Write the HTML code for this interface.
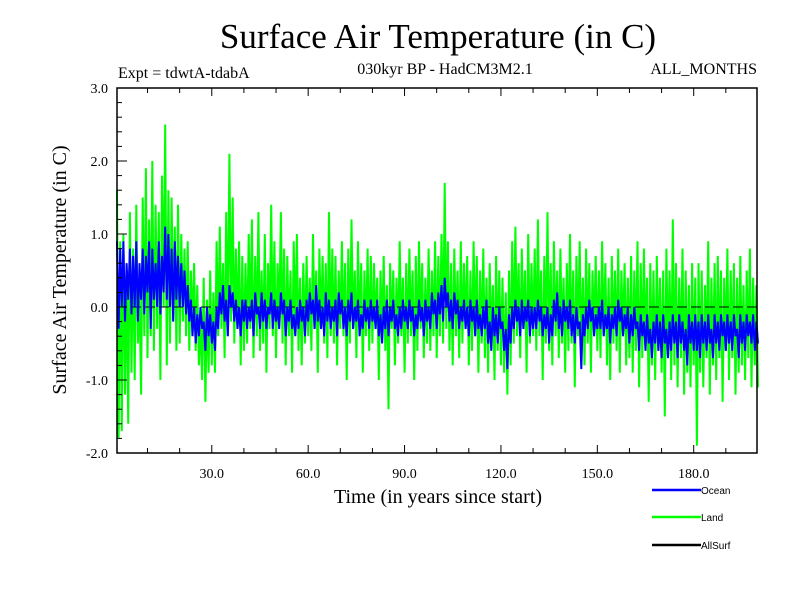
<!DOCTYPE html>
<html><head><meta charset="utf-8"><style>
body{margin:0;background:#fff}
svg text{font-family:"Liberation Serif",serif}
svg text.sans{font-family:"Liberation Sans",sans-serif}
</style></head><body>
<svg id="chart" width="800" height="600" xmlns="http://www.w3.org/2000/svg">
<rect width="800" height="600" fill="#fff"/>
<text x="438" y="48" font-size="35" text-anchor="middle">Surface Air Temperature (in C)</text>
<text x="118" y="78" font-size="16">Expt = tdwtA-tdabA</text>
<text x="445" y="74" font-size="16" text-anchor="middle">030kyr BP - HadCM3M2.1</text>
<text x="757" y="74" font-size="16" text-anchor="end">ALL_MONTHS</text>
<text transform="translate(66,270) rotate(-90)" font-size="20" text-anchor="middle">Surface Air Temperature (in C)</text>
<text x="438" y="503" font-size="20" text-anchor="middle">Time (in years since start)</text>
<g id="plot"></g>
<g id="axes"></g>
<g>
<g><line x1="652" y1="490" x2="701" y2="490" stroke="#0000ff" stroke-width="2.5"/><text class="sans" x="701" y="494" font-size="10" style="font-family:'Liberation Sans',sans-serif">Ocean</text></g>
<g><line x1="652" y1="517" x2="701" y2="517" stroke="#00ff00" stroke-width="2.5"/><text class="sans" x="701" y="521" font-size="10" style="font-family:'Liberation Sans',sans-serif">Land</text></g>
<g><line x1="652" y1="545" x2="701" y2="545" stroke="#000" stroke-width="2.5"/><text class="sans" x="701" y="549" font-size="10" style="font-family:'Liberation Sans',sans-serif">AllSurf</text></g>
</g>
</svg>
<script>
const land=[1.6,-1.8,0.9,-1.7,1.0,-1.2,0.5,-1.6,1.3,-0.9,0.8,-1.0,1.4,-0.5,0.2,-1.2,1.5,-0.4,1.9,-0.7,
1.2,-0.4,2.0,-0.6,1.4,-0.3,1.3,-1.0,1.8,0.0,2.5,-0.8,1.6,-0.5,1.5,-0.2,1.1,-0.6,1.4,-0.5,
1.0,-0.2,0.8,-0.4,0.9,-0.6,0.5,-0.3,0.6,-0.6,0.3,-0.8,-0.2,-1.0,0.4,-1.3,0.1,-0.9,0.5,-0.8,
0.2,-0.9,0.9,-0.4,1.1,-0.3,0.6,-0.7,1.3,-0.4,2.1,-0.2,1.5,-0.5,0.8,-0.3,0.9,-0.8,0.7,-0.6,
0.6,-0.5,1.0,-0.3,1.2,-0.7,0.7,-0.4,1.3,-0.6,0.5,-0.5,1.0,-0.9,0.6,-0.3,1.4,-0.4,0.9,-0.7,
0.6,-0.2,1.3,-0.5,0.8,-0.8,0.7,-0.4,0.5,-0.9,0.9,-0.3,1.0,-0.6,0.4,-0.8,0.6,-0.5,0.7,-0.4,
0.4,-0.6,1.0,-0.3,0.5,-0.9,0.8,-0.3,0.7,-0.5,0.6,-0.7,1.3,-0.4,0.8,-0.5,0.7,-0.8,0.5,-0.3,
0.9,-0.4,0.6,-1.0,0.8,-0.5,1.2,-0.3,0.5,-0.7,0.9,-0.4,0.6,-0.9,0.5,-0.4,0.8,-0.6,0.7,-0.5,
0.6,-0.3,0.4,-1.0,0.5,-0.4,0.7,-0.6,0.3,-1.4,0.6,-0.3,0.5,-0.8,0.4,-0.5,0.9,-0.4,0.4,-0.9,
0.6,-0.5,0.8,-0.4,0.5,-1.0,0.7,-0.6,0.9,-0.3,0.6,-0.7,0.4,-0.5,0.8,-0.6,0.5,-0.4,0.9,-0.7,
0.7,-0.4,1.0,-0.5,1.7,-0.3,0.9,-0.6,0.6,-0.8,0.8,-0.4,0.5,-0.7,0.9,-0.5,0.6,-0.3,0.7,-0.8,
0.5,-0.6,0.9,-0.4,0.7,-0.9,0.5,-0.5,0.8,-0.7,0.4,-0.9,0.6,-0.5,0.3,-1.0,0.7,-0.6,0.5,-0.8,
0.4,-0.9,0.2,-1.2,0.5,-0.8,0.9,-0.5,1.1,-0.4,0.6,-0.7,0.8,-0.3,0.5,-0.9,1.0,-0.5,0.6,-0.4,
0.8,-0.6,1.2,-0.4,0.5,-1.0,0.7,-0.5,1.3,-0.6,0.6,-0.8,0.9,-0.4,0.5,-0.7,0.8,-0.5,0.4,-0.9,
0.6,-0.6,1.0,-0.5,0.5,-1.1,0.7,-0.4,0.9,-0.7,0.4,-0.8,0.8,-0.5,0.6,-0.9,0.5,-0.4,0.7,-0.6,
0.5,-0.7,0.9,-0.4,0.6,-0.8,0.4,-1.0,0.7,-0.5,0.5,-0.6,0.8,-0.9,0.5,-0.4,0.6,-0.8,0.4,-0.7,
0.7,-0.9,0.5,-0.6,0.9,-1.1,0.6,-0.7,0.8,-0.5,0.4,-1.3,0.6,-0.8,0.5,-1.0,0.7,-0.6,0.4,-0.9,
0.5,-1.5,0.8,-0.7,0.5,-1.0,1.2,-0.8,0.6,-1.1,0.4,-0.7,0.8,-1.2,0.5,-0.9,0.3,-1.1,0.6,-0.8,
0.4,-1.9,0.6,-0.9,0.5,-1.1,0.3,-0.7,0.9,-1.2,0.4,-0.8,0.6,-1.0,0.7,-0.7,0.5,-1.3,0.4,-0.6,
0.8,-1.0,0.5,-0.7,0.6,-1.2,0.4,-0.9,0.7,-0.8,0.3,-1.0,0.5,-0.7,0.8,-1.1,0.4,-0.8,0.3,-1.1];
const ocean=[0.9,-0.3,0.8,0.0,0.9,-0.2,0.6,0.1,0.8,-0.1,0.7,0.0,0.9,-0.2,0.6,0.1,0.8,-0.1,0.7,0.2,
0.9,-0.3,0.8,0.1,0.6,0.0,0.9,-0.1,0.7,0.2,1.1,0.1,1.0,0.0,0.8,-0.2,0.9,0.1,0.7,0.0,
0.6,0.0,0.5,-0.1,0.3,-0.2,0.1,-0.4,0.0,-0.5,-0.1,-0.4,0.0,-0.3,-0.2,-0.6,0.0,-0.4,-0.1,-0.5,
-0.2,-0.6,0.0,-0.3,0.2,-0.1,0.3,-0.2,0.1,-0.4,0.3,0.0,0.2,-0.2,0.1,-0.3,0.0,-0.4,0.1,-0.2,
0.1,-0.3,0.0,-0.2,0.1,-0.4,0.2,-0.1,0.0,-0.3,0.2,-0.2,0.1,-0.3,0.0,-0.1,0.2,-0.3,0.1,-0.2,
0.0,-0.3,0.2,-0.1,0.1,-0.4,0.0,-0.2,0.1,-0.3,-0.1,-0.4,0.0,-0.3,0.1,-0.2,0.0,-0.4,0.1,-0.2,
0.2,-0.1,0.1,-0.3,0.3,-0.2,0.1,-0.3,0.0,-0.4,0.2,-0.2,0.1,-0.3,0.0,-0.2,0.1,-0.4,0.2,-0.1,
0.1,-0.3,0.0,-0.4,0.1,-0.2,0.2,-0.3,0.0,-0.2,0.1,-0.4,-0.1,-0.3,0.1,-0.2,0.0,-0.3,0.1,-0.2,
0.0,-0.3,0.1,-0.4,-0.1,-0.5,0.0,-0.3,0.1,-0.4,0.0,-0.2,0.1,-0.3,-0.1,-0.4,0.0,-0.3,0.1,-0.2,
0.0,-0.3,0.1,-0.2,0.0,-0.4,-0.1,-0.3,0.1,-0.2,0.0,-0.4,0.1,-0.2,0.0,-0.3,0.2,-0.1,0.1,-0.3,
0.2,-0.1,0.3,-0.2,0.4,0.0,0.2,-0.2,0.1,-0.3,0.2,-0.1,0.1,-0.3,0.0,-0.2,0.1,-0.3,0.0,-0.4,
0.1,-0.2,0.0,-0.4,0.1,-0.3,-0.1,-0.4,0.0,-0.3,0.1,-0.5,-0.2,-0.6,0.0,-0.4,-0.1,-0.5,0.0,-0.3,
-0.2,-0.6,-0.3,-0.85,-0.1,-0.5,0.0,-0.3,0.1,-0.2,0.0,-0.4,0.1,-0.3,0.0,-0.2,0.1,-0.4,0.0,-0.3,
0.0,-0.3,0.1,-0.2,0.0,-0.4,-0.1,-0.3,0.0,-0.5,-0.1,-0.4,0.1,-0.2,0.2,-0.3,0.0,-0.4,0.1,-0.2,
0.0,-0.3,0.1,-0.4,-0.1,-0.5,0.0,-0.3,-0.2,-0.85,-0.1,-0.4,0.0,-0.3,0.1,-0.2,0.0,-0.4,-0.1,-0.3,
0.0,-0.3,0.1,-0.4,-0.1,-0.3,0.0,-0.5,-0.1,-0.3,0.0,-0.4,0.1,-0.2,0.0,-0.4,-0.1,-0.3,0.0,-0.5,
-0.1,-0.4,0.0,-0.3,-0.2,-0.6,-0.1,-0.4,-0.2,-0.6,-0.1,-0.5,-0.3,-0.7,-0.2,-0.5,-0.1,-0.6,-0.2,-0.7,
-0.1,-0.5,-0.3,-0.7,-0.2,-0.6,-0.1,-0.5,-0.2,-0.7,-0.1,-0.5,-0.2,-0.6,-0.3,-0.8,-0.1,-0.5,-0.2,-0.6,
-0.1,-0.6,-0.2,-0.7,-0.1,-0.5,-0.2,-0.6,-0.1,-0.5,-0.3,-0.7,-0.1,-0.5,-0.2,-0.6,-0.1,-0.4,-0.2,-0.6,
-0.1,-0.5,-0.2,-0.6,-0.1,-0.4,-0.3,-0.7,-0.1,-0.5,-0.2,-0.6,-0.1,-0.4,-0.2,-0.5,-0.1,-0.6,-0.2,-0.5];
const xTickValues=[30,60,90,120,150,180];
const xTickLabels=["30.0","60.0","90.0","120.0","150.0","180.0"];
const yTickValues=[3,2,1,0,-1,-2];
const yTickLabels=["3.0","2.0","1.0","0.0","-1.0","-2.0"];

const L=117,R=757,T=88,B=453,X0=0.5,X1=199.7,Y0=-2,Y1=3,STEP=0.5;
const sx=v=>L+(v-X0)/(X1-X0)*(R-L);
const sy=v=>B-(v-Y0)/(Y1-Y0)*(B-T);
const NS="http://www.w3.org/2000/svg";
const plot=document.getElementById('plot'), axes=document.getElementById('axes');
function mk(tag,attrs,parent){const e=document.createElementNS(NS,tag);for(const k in attrs)e.setAttribute(k,attrs[k]);parent.appendChild(e);return e;}
function pts(arr){return arr.map((v,i)=>sx(X0+i*STEP).toFixed(1)+','+sy(v).toFixed(1)).join(' ');}
const lp=mk('polyline',{points:pts(land),fill:'none',stroke:'#00ff00','stroke-width':2},plot);


const zl=mk('line',{x1:L,x2:R,y1:sy(0),y2:sy(0),stroke:'#000','stroke-width':1,'stroke-dasharray':'10,4'},plot);


const op=mk('polyline',{points:pts(ocean),fill:'none',stroke:'#0000ff','stroke-width':2},plot);


const fr=mk('rect',{x:L,y:T,width:R-L,height:B-T,fill:'none',stroke:'#000','stroke-width':1.5},axes);


for(let yr=10;yr<200;yr+=10){const x=sx(yr),len=(yr%30===0)?8:5;
 mk('line',{x1:x,x2:x,y1:B,y2:B-len,stroke:'#000','stroke-width':1},axes);
 mk('line',{x1:x,x2:x,y1:T,y2:T+len,stroke:'#000','stroke-width':1},axes);}
for(let k=-20;k<=30;k+=2){const y=sy(k/10),len=(k%10===0)?10:5;
 mk('line',{x1:L,x2:L+len,y1:y,y2:y,stroke:'#000','stroke-width':1},axes);}
xTickValues.forEach((v,i)=>{const t=mk('text',{x:sx(v),y:478,'font-size':14,'text-anchor':'middle'},axes);t.textContent=xTickLabels[i];
 
 });
yTickValues.forEach((v,i)=>{const t=mk('text',{x:108,y:sy(v)+5,'font-size':14,'text-anchor':'end'},axes);t.textContent=yTickLabels[i];
 
 });
</script>
</body></html>
